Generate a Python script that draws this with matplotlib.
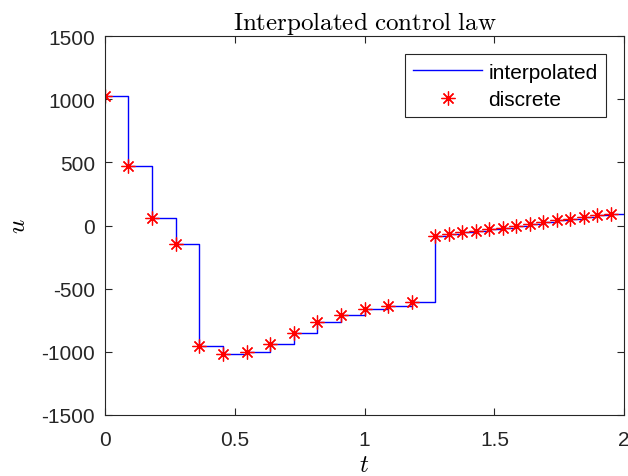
import numpy as np
import matplotlib
matplotlib.use("Agg")
import matplotlib.pyplot as plt

plt.rcParams['mathtext.fontset'] = 'cm'
plt.rcParams['font.family'] = ['Liberation Sans', 'DejaVu Sans']
plt.rcParams['axes.unicode_minus'] = False

# discrete control samples
t_disc = [0.0, 0.0909, 0.1818, 0.2727, 0.3636, 0.4545, 0.5455, 0.6364, 0.7273,
          0.8182, 0.9091, 1.0, 1.0909, 1.1818, 1.2727,
          1.3247, 1.3766, 1.4286, 1.4805, 1.5325, 1.5844, 1.6364, 1.6883,
          1.7403, 1.7922, 1.8442, 1.8961, 1.9481]
u_disc = [1025, 471, 59, -146, -954, -1017, -1001, -938, -851,
          -764, -709, -661, -637, -606, -81,
          -67, -54, -41, -30, -16, -3, 15, 29,
          42, 56, 69, 82, 95]
t_end = 2.0

fig = plt.figure(figsize=(6.28, 4.77), dpi=100)
ax = fig.add_axes([0.167, 0.128, 0.827, 0.794])

t_line = list(t_disc) + [t_end]
u_line = list(u_disc) + [u_disc[-1]]
ax.step(t_line, u_line, where='post', color='#0000ff', lw=1.0, label='interpolated')
ax.plot(t_disc, u_disc, ls='none', marker=(8, 2, 0), color='#ff0000', ms=10,
        mew=0.9, label='discrete')

ax.set_xlim(0, 2)
ax.set_ylim(-1500, 1500)
ax.set_xticks([0, 0.5, 1, 1.5, 2])
ax.set_xticklabels(['0', '0.5', '1', '1.5', '2'])
ax.set_yticks([-1500, -1000, -500, 0, 500, 1000, 1500])

axcol = '#262626'
for s in ax.spines.values():
    s.set_color(axcol)
    s.set_linewidth(0.8)
ax.tick_params(direction='in', length=5, width=0.8, color=axcol,
               labelsize=15, labelcolor='#262626', top=True, right=True)
ax.tick_params(axis='x', pad=11)
ax.tick_params(axis='y', pad=7)

ax.set_title(r'$\mathrm{Interpolated\ control\ law}$', fontsize=18, pad=5)
ax.set_xlabel(r'$t$', fontsize=18, labelpad=2)
ax.set_ylabel(r'$u$', fontsize=18, labelpad=8)

leg = ax.legend(loc='upper right', bbox_to_anchor=(0.965, 0.9525), borderaxespad=0,
                fontsize=15, fancybox=False, framealpha=1, edgecolor=axcol,
                handlelength=3.3, borderpad=0.4, labelspacing=0.4,
                handletextpad=0.3)
leg.get_frame().set_linewidth(0.8)

fig.savefig('out.png', dpi=100)
